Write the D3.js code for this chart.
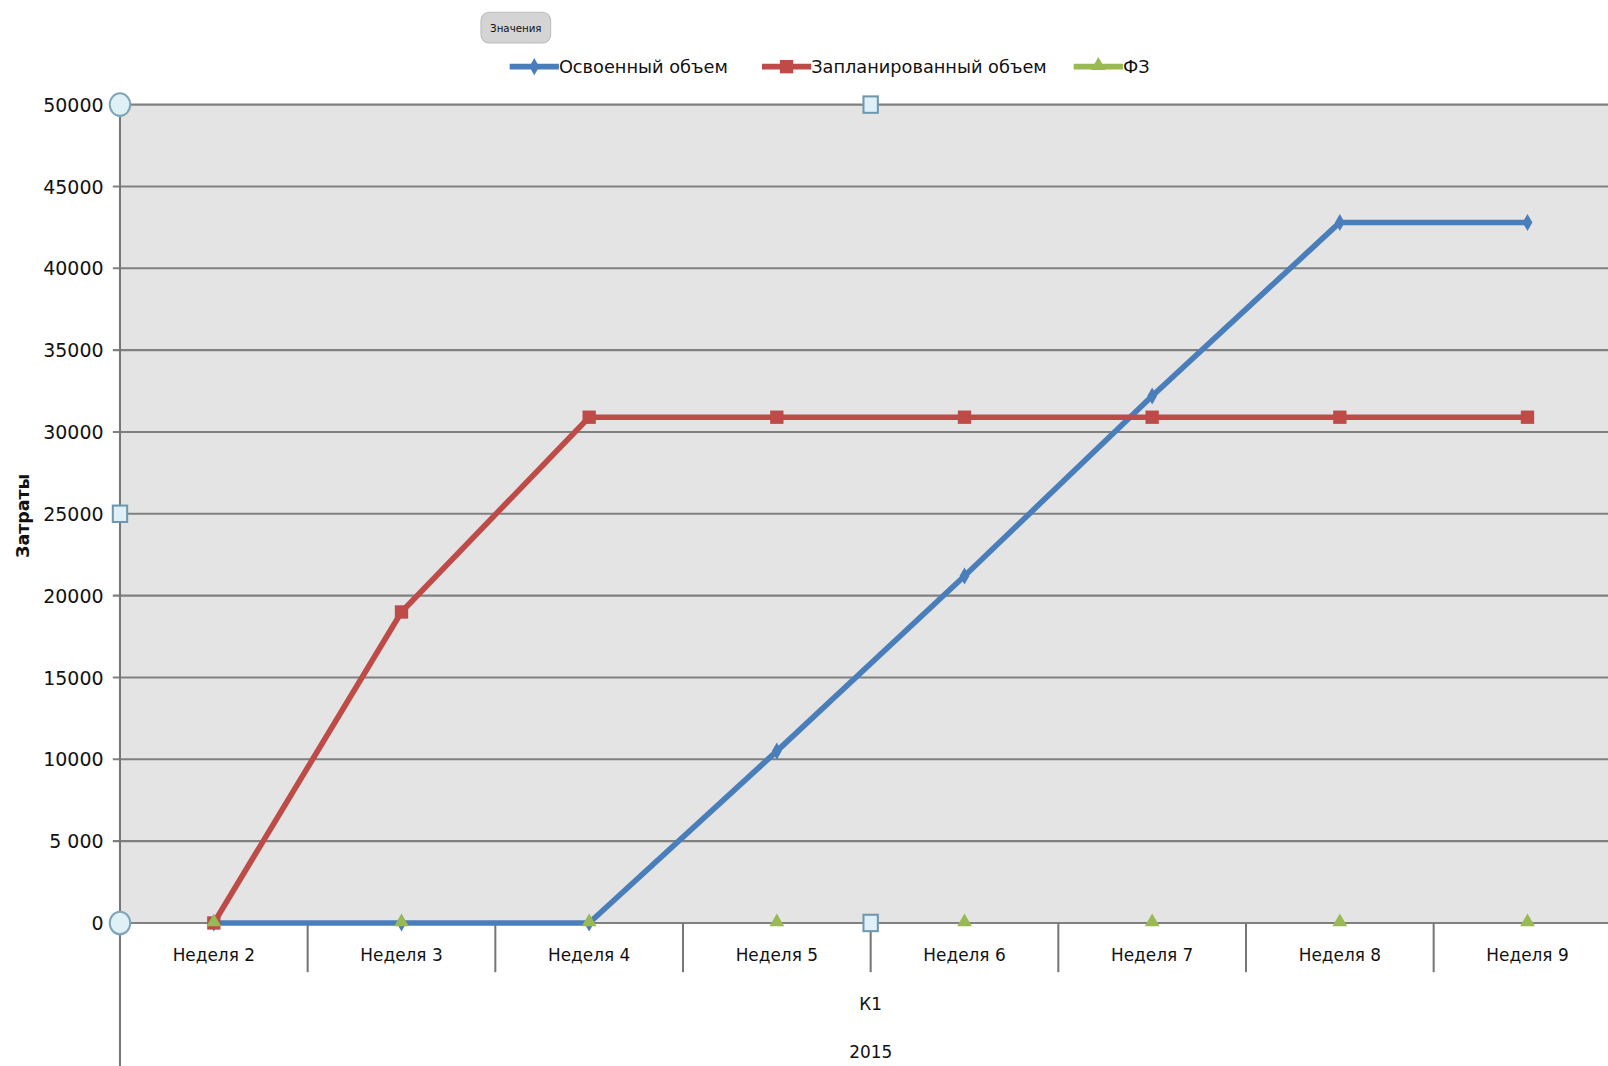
<!DOCTYPE html>
<html>
<head>
<meta charset="utf-8">
<script src="https://cdn.jsdelivr.net/npm/d3@7"></script>
<style>
  body { margin: 0; background: #fff; }
  text { font-family: "DejaVu Sans", sans-serif; fill: #111; }
</style>
</head>
<body>
<div id="chart"></div>
<script>
// chart data
const weeks = ['Неделя 2', 'Неделя 3', 'Неделя 4', 'Неделя 5', 'Неделя 6', 'Неделя 7', 'Неделя 8', 'Неделя 9'];
const earned = [0, 0, 0, 10500, 21200, 32200, 42800, 42800];
const planned = [0, 19000, 30900, 30900, 30900, 30900, 30900, 30900];
const fz = [0, 0, 0, 0, 0, 0, 0, 0];
const yTicks = [0, 5000, 10000, 15000, 20000, 25000, 30000, 35000, 40000, 45000, 50000];
const yTickLabels = ['0', '5 000', '10000', '15000', '20000', '25000', '30000', '35000', '40000', '45000', '50000'];
const seriesNames = ['Освоенный объем', 'Запланированный объем', 'ФЗ'];
const colors = ['#4a7ebb', '#be4b48', '#98b954'];

const W = 1608, H = 1066;
// layout worked out on a 1568 wide copy, scaled up to the page
const k = W / 1568;
const plotLeft = 117, plotTop = 102, plotBottom = 900, band = 183;

const svg = d3.select('#chart').append('svg')
  .attr('width', W).attr('height', H)
  .append('g')
  .attr('transform', `scale(${k})`);

const x = d3.scaleBand().domain(weeks).range([plotLeft, plotLeft + band * weeks.length]);
const y = d3.scaleLinear().domain([0, 50000]).range([plotBottom, plotTop]);

// plot background
svg.append('rect')
  .attr('x', plotLeft).attr('y', plotTop)
  .attr('width', 1568 - plotLeft).attr('height', plotBottom - plotTop)
  .attr('fill', '#e4e4e4');

// gridlines
svg.selectAll('.grid')
  .data(yTicks)
  .enter().append('line')
  .attr('x1', plotLeft - 7).attr('x2', 1568)
  .attr('y1', d => y(d)).attr('y2', d => y(d))
  .attr('stroke', '#808080').attr('stroke-width', 2);

// y tick labels
svg.selectAll('.ylab')
  .data(yTicks)
  .enter().append('text')
  .attr('x', 101).attr('y', d => y(d) + 7)
  .attr('text-anchor', 'end')
  .attr('font-size', 18.5)
  .text((d, i) => yTickLabels[i]);

// left axis line going down to the multi-level labels
svg.append('line')
  .attr('x1', plotLeft).attr('x2', plotLeft).attr('y1', plotTop).attr('y2', 1040)
  .attr('stroke', '#777').attr('stroke-width', 2);

// category ticks between bands
const bounds = weeks.slice(1).map(w => x(w));
svg.selectAll('.ctick')
  .data(bounds)
  .enter().append('line')
  .attr('x1', d => d).attr('x2', d => d)
  .attr('y1', plotBottom).attr('y2', 948)
  .attr('stroke', '#777').attr('stroke-width', 2);

// category labels
svg.selectAll('.clab')
  .data(weeks)
  .enter().append('text')
  .attr('x', d => x(d) + band / 2).attr('y', 937)
  .attr('text-anchor', 'middle')
  .attr('font-size', 16.5)
  .text(d => d);

const mid = plotLeft + band * weeks.length / 2;
svg.append('text').attr('x', mid).attr('y', 985).attr('text-anchor', 'middle')
  .attr('font-size', 16.5).text('К1');
svg.append('text').attr('x', mid).attr('y', 1032).attr('text-anchor', 'middle')
  .attr('font-size', 16.5).text('2015');

// y axis title
svg.append('text')
  .attr('transform', 'translate(28,503) rotate(-90)')
  .attr('text-anchor', 'middle')
  .attr('font-size', 17)
  .attr('font-weight', 'bold')
  .text('Затраты');

// lines
const line = d3.line()
  .x((d, i) => x(weeks[i]) + band / 2)
  .y(d => y(d));

[earned, planned].forEach((vals, j) => {
  svg.append('path')
    .datum(vals)
    .attr('d', line)
    .attr('fill', 'none')
    .attr('stroke', colors[j])
    .attr('stroke-width', 5.5)
    .attr('stroke-linejoin', 'round');
});

// markers
svg.selectAll('.m0')
  .data(earned)
  .enter().append('path')
  .attr('transform', (d, i) => `translate(${x(weeks[i]) + band / 2},${y(d)})`)
  .attr('d', d3.symbol(d3.symbolDiamond, 80))
  .attr('fill', colors[0]);

svg.selectAll('.m1')
  .data(planned)
  .enter().append('rect')
  .attr('x', (d, i) => x(weeks[i]) + band / 2 - 6.5)
  .attr('y', d => y(d) - 6.5)
  .attr('width', 13).attr('height', 13)
  .attr('fill', colors[1]);

svg.selectAll('.m2')
  .data(fz)
  .enter().append('path')
  .attr('transform', (d, i) => `translate(${x(weeks[i]) + band / 2},${y(d) - 1})`)
  .attr('d', d3.symbol(d3.symbolTriangle, 90))
  .attr('fill', colors[2]);

// selection handles
const circles = [[plotLeft, plotTop], [plotLeft, plotBottom]];
svg.selectAll('.hc')
  .data(circles)
  .enter().append('ellipse')
  .attr('cx', d => d[0]).attr('cy', d => d[1])
  .attr('rx', 10).attr('ry', 11)
  .attr('fill', '#dff0f6').attr('stroke', '#7fa6b8').attr('stroke-width', 2);

const squares = [[mid, plotTop], [plotLeft, 501], [mid, plotBottom]];
svg.selectAll('.hs')
  .data(squares)
  .enter().append('rect')
  .attr('x', d => d[0] - 7).attr('y', d => d[1] - 8)
  .attr('width', 14).attr('height', 16)
  .attr('fill', '#dff0f8').attr('stroke', '#6f98b0').attr('stroke-width', 2);

// "Значения" button
svg.append('rect')
  .attr('x', 469).attr('y', 12).attr('width', 68).attr('height', 30)
  .attr('rx', 8)
  .attr('fill', '#d4d4d4').attr('stroke', '#bbb');
svg.append('text')
  .attr('x', 503).attr('y', 31).attr('text-anchor', 'middle')
  .attr('font-size', 10).text('Значения');

// legend
const legendX = [497, 743, 1047];
const lg = svg.selectAll('.lg')
  .data(seriesNames)
  .enter().append('g')
  .attr('transform', (d, i) => `translate(${legendX[i]},65)`);
lg.append('line')
  .attr('x1', 0).attr('x2', 48)
  .attr('stroke', (d, i) => colors[i]).attr('stroke-width', 5.5);
lg.each(function(d, i) {
  const g = d3.select(this);
  if (i === 0) g.append('path').attr('transform', 'translate(24,0)')
    .attr('d', d3.symbol(d3.symbolDiamond, 80)).attr('fill', colors[0]);
  if (i === 1) g.append('rect').attr('x', 17.5).attr('y', -6.5)
    .attr('width', 13).attr('height', 13).attr('fill', colors[1]);
  if (i === 2) g.append('path').attr('transform', 'translate(24,-1)')
    .attr('d', d3.symbol(d3.symbolTriangle, 90)).attr('fill', colors[2]);
});
lg.append('text')
  .attr('x', 48).attr('y', 6.5)
  .attr('font-size', 17.3)
  .text(d => d);
</script>
</body>
</html>
